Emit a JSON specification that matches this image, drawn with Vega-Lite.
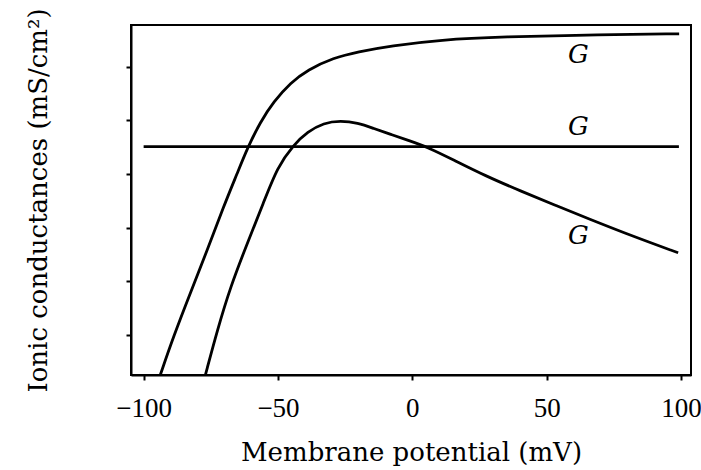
{
  "$schema": "https://vega.github.io/schema/vega-lite/v6.json",
  "width": 560,
  "height": 350,
  "autosize": "none",
  "padding": {"left": 131, "top": 25, "right": 10, "bottom": 95},
  "background": "white",
  "config": {
    "view": {"stroke": "black", "strokeWidth": 2},
    "font": "DejaVu Serif",
    "axis": {
      "grid": false,
      "domainColor": "black",
      "domainWidth": 2,
      "tickColor": "black",
      "tickWidth": 2,
      "tickSize": 5,
      "labelFont": "Liberation Serif",
      "labelFontSize": 27,
      "labelColor": "black",
      "titleFont": "DejaVu Serif",
      "titleFontSize": 26,
      "titleFontWeight": "normal",
      "titleColor": "black"
    }
  },
  "datasets": {
    "curves": [
      {"series": "K", "v": -93.78, "g": 0.254},
      {"series": "K", "v": -88.93, "g": 0.963},
      {"series": "K", "v": -82.59, "g": 1.784},
      {"series": "K", "v": -76.26, "g": 2.586},
      {"series": "K", "v": -70.29, "g": 3.388},
      {"series": "K", "v": -65.08, "g": 4.022},
      {"series": "K", "v": -61.35, "g": 4.489},
      {"series": "K", "v": -56.50, "g": 4.974},
      {"series": "K", "v": -51.66, "g": 5.347},
      {"series": "K", "v": -45.32, "g": 5.701},
      {"series": "K", "v": -38.98, "g": 5.944},
      {"series": "K", "v": -29.29, "g": 6.168},
      {"series": "K", "v": -20.35, "g": 6.280},
      {"series": "K", "v": -8.05, "g": 6.392},
      {"series": "K", "v": 10.59, "g": 6.504},
      {"series": "K", "v": 32.95, "g": 6.560},
      {"series": "K", "v": 70.22, "g": 6.597},
      {"series": "K", "v": 99.29, "g": 6.616},
      {"series": "Na", "v": -77.0, "g": 0.254},
      {"series": "Na", "v": -72.53, "g": 1.093},
      {"series": "Na", "v": -67.69, "g": 1.896},
      {"series": "Na", "v": -61.35, "g": 2.716},
      {"series": "Na", "v": -55.39, "g": 3.463},
      {"series": "Na", "v": -50.17, "g": 4.134},
      {"series": "Na", "v": -44.20, "g": 4.545},
      {"series": "Na", "v": -38.98, "g": 4.787},
      {"series": "Na", "v": -33.02, "g": 4.955},
      {"series": "Na", "v": -26.68, "g": 4.993},
      {"series": "Na", "v": -20.35, "g": 4.955},
      {"series": "Na", "v": -14.38, "g": 4.85},
      {"series": "Na", "v": -8.0, "g": 4.74},
      {"series": "Na", "v": -1.71, "g": 4.63},
      {"series": "Na", "v": 5.74, "g": 4.50},
      {"series": "Na", "v": 15.43, "g": 4.26},
      {"series": "Na", "v": 27.0, "g": 3.97},
      {"series": "Na", "v": 40.40, "g": 3.68},
      {"series": "Na", "v": 53.0, "g": 3.42},
      {"series": "Na", "v": 65.37, "g": 3.17},
      {"series": "Na", "v": 82.0, "g": 2.84},
      {"series": "Na", "v": 98.92, "g": 2.53},
      {"series": "L", "v": -100, "g": 4.51},
      {"series": "L", "v": 99.2, "g": 4.51}
    ],
    "labels": [
      {"text": "G", "v": 61.8, "g": 6.22},
      {"text": "G", "v": 61.8, "g": 4.88},
      {"text": "G", "v": 61.8, "g": 2.85}
    ]
  },
  "layer": [
    {
      "data": {"name": "curves"},
      "mark": {"type": "line", "interpolate": "basis", "strokeWidth": 2.8, "clip": true},
      "encoding": {
        "x": {
          "field": "v", "type": "quantitative",
          "scale": {"domain": [-104.7, 103.7], "nice": false, "zero": false},
          "axis": {"values": [-100, -50, 0, 50, 100], "title": "Membrane potential (mV)", "labelPadding": 15, "titlePadding": 18}
        },
        "y": {
          "field": "g", "type": "quantitative",
          "scale": {"domain": [0.25, 6.78], "nice": false, "zero": false},
          "axis": {"values": [1, 2, 3, 4, 5, 6], "labels": false, "title": "Ionic conductances (mS/cm²)", "titlePadding": 74}
        },
        "color": {"field": "series", "type": "nominal", "scale": {"range": ["black", "black", "black"]}, "legend": null}
      }
    },
    {
      "data": {"name": "labels"},
      "mark": {"type": "text", "font": "DejaVu Serif", "fontStyle": "italic", "fontSize": 26, "color": "black", "baseline": "middle", "align": "center"},
      "encoding": {
        "x": {"field": "v", "type": "quantitative"},
        "y": {"field": "g", "type": "quantitative"},
        "text": {"field": "text"}
      }
    }
  ]
}
